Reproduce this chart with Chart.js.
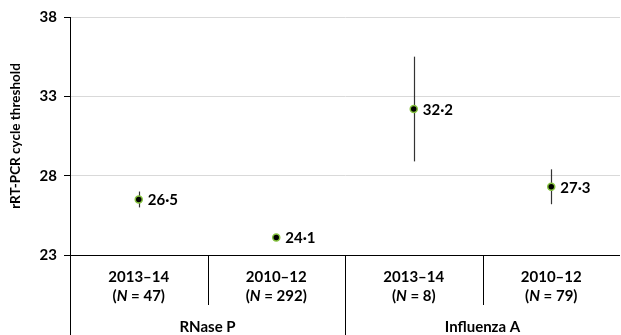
<!DOCTYPE html>
<html>
<head>
<meta charset="utf-8">
<script src="https://cdn.jsdelivr.net/npm/chart.js@4/dist/chart.umd.min.js"></script>
<style>
  html, body { margin: 0; padding: 0; background: #fff; overflow: hidden; }
  #wrap { width: 625px; height: 335px; }
</style>
</head>
<body>
<div id="wrap"><canvas id="c" width="625" height="335"></canvas></div>
<script>
// Seasons and sample sizes per target
const seasons = ['2013–14', '2010–12', '2013–14', '2010–12'];
const sampleSizes = ['47', '292', '8', '79'];
const targets = ['RNase P', 'Influenza A'];
// Mean cycle threshold and interval bounds
const meanCt = [26.5, 24.1, 32.2, 27.3];
const lowerCt = [26.0, 23.9, 28.9, 26.2];
const upperCt = [27.0, 24.3, 35.5, 28.4];
const yTicks = [23, 28, 33, 38];

const FONT = 'Lato, "Open Sans", sans-serif';
const LABEL_SIZE = 15;

const fmt = v => v.toFixed(1).replace('.', '·');

const decorations = {
  id: 'decorations',
  beforeDatasetsDraw(chart) {
    const { ctx } = chart;
    const y = chart.scales.y;
    const x = chart.scales.x;
    ctx.save();
    ctx.strokeStyle = '#333';
    ctx.lineWidth = 1.2;
    meanCt.forEach((m, i) => {
      const px = Math.round(x.getPixelForValue(i)) + 0.5;
      ctx.beginPath();
      ctx.moveTo(px, y.getPixelForValue(upperCt[i]));
      ctx.lineTo(px, y.getPixelForValue(lowerCt[i]));
      ctx.stroke();
    });
    ctx.restore();
  },
  afterDraw(chart) {
    const { ctx, chartArea } = chart;
    const x = chart.scales.x;
    const y = chart.scales.y;
    const base = y.getPixelForValue(23);
    const H = chart.height;
    const fB = 'bold ' + LABEL_SIZE + 'px ' + FONT;
    const fI = 'italic bold ' + LABEL_SIZE + 'px ' + FONT;
    ctx.save();
    // value labels
    ctx.fillStyle = '#000';
    ctx.font = fB;
    ctx.textAlign = 'left';
    ctx.textBaseline = 'middle';
    meanCt.forEach((m, i) => {
      ctx.fillText(fmt(m), x.getPixelForValue(i) + 9, y.getPixelForValue(m) + 1);
    });
    // category table below the axis
    ctx.strokeStyle = '#000';
    ctx.lineWidth = 1;
    const left = chartArea.left;
    const bound = i => (x.getPixelForValue(i) + x.getPixelForValue(i + 1)) / 2;
    ctx.beginPath();
    ctx.moveTo(left + 0.5, base);
    ctx.lineTo(left + 0.5, H);
    [0, 2].forEach(i => {
      const bx = Math.round(bound(i)) + 0.5;
      ctx.moveTo(bx, base);
      ctx.lineTo(bx, base + 50);
    });
    const mid = Math.round(bound(1)) + 0.5;
    ctx.moveTo(mid, base);
    ctx.lineTo(mid, H);
    ctx.stroke();

    seasons.forEach((s, i) => {
      const cx = x.getPixelForValue(i);
      ctx.font = fB;
      ctx.textAlign = 'center';
      ctx.fillText(s, cx, base + 22);
      // "(N = n)" with italic N
      const p1 = '(', p2 = 'N', p3 = ' = ' + sampleSizes[i] + ')';
      ctx.font = fB; const w1 = ctx.measureText(p1).width, w3 = ctx.measureText(p3).width;
      ctx.font = fI; const w2 = ctx.measureText(p2).width;
      let sx = cx - (w1 + w2 + w3) / 2;
      ctx.textAlign = 'left';
      ctx.font = fB; ctx.fillText(p1, sx, base + 41); sx += w1;
      ctx.font = fI; ctx.fillText(p2, sx, base + 41); sx += w2;
      ctx.font = fB; ctx.fillText(p3, sx, base + 41);
    });
    ctx.textAlign = 'center';
    ctx.font = fB;
    targets.forEach((t, g) => {
      const l = g === 0 ? left : bound(1);
      const r = g === 0 ? bound(1) : chartArea.right;
      ctx.fillText(t, (l + r) / 2, base + 72);
    });
    ctx.restore();
  }
};

new Chart(document.getElementById('c'), {
  type: 'line',
  data: {
    labels: seasons.map((s, i) => s + ' ' + targets[i < 2 ? 0 : 1]),
    datasets: [{
      data: meanCt,
      showLine: false,
      pointRadius: 3.5,
      pointHoverRadius: 3.5,
      pointBackgroundColor: '#000',
      pointBorderColor: '#86c33f',
      pointBorderWidth: 1.5
    }]
  },
  options: {
    responsive: false,
    animation: false,
    events: [],
    layout: { padding: { top: 17, bottom: 80, left: 0, right: 0 } },
    plugins: { legend: { display: false }, tooltip: { enabled: false } },
    scales: {
      x: { type: 'category', offset: true, display: false },
      y: {
        min: 23, max: 38,
        afterBuildTicks: s => { s.ticks = yTicks.map(v => ({ value: v })); },
        afterFit: s => { s.width = 70; },
        ticks: { color: '#000', padding: 7, font: { family: FONT, size: 15, weight: 'bold' } },
        grid: {
          color: c => (c.tick && c.tick.value === 23) ? '#000' : '#d9d9d9',
          lineWidth: 1,
          tickLength: 6,
          tickColor: '#000'
        },
        border: { color: '#000', width: 1 },
        title: {
          display: true,
          text: 'rRT-PCR cycle threshold',
          color: '#000',
          font: { family: FONT, size: 13.5, weight: 'bold' },
          padding: { top: 8, bottom: 0 }
        }
      }
    }
  },
  plugins: [decorations]
});
</script>
</body>
</html>
